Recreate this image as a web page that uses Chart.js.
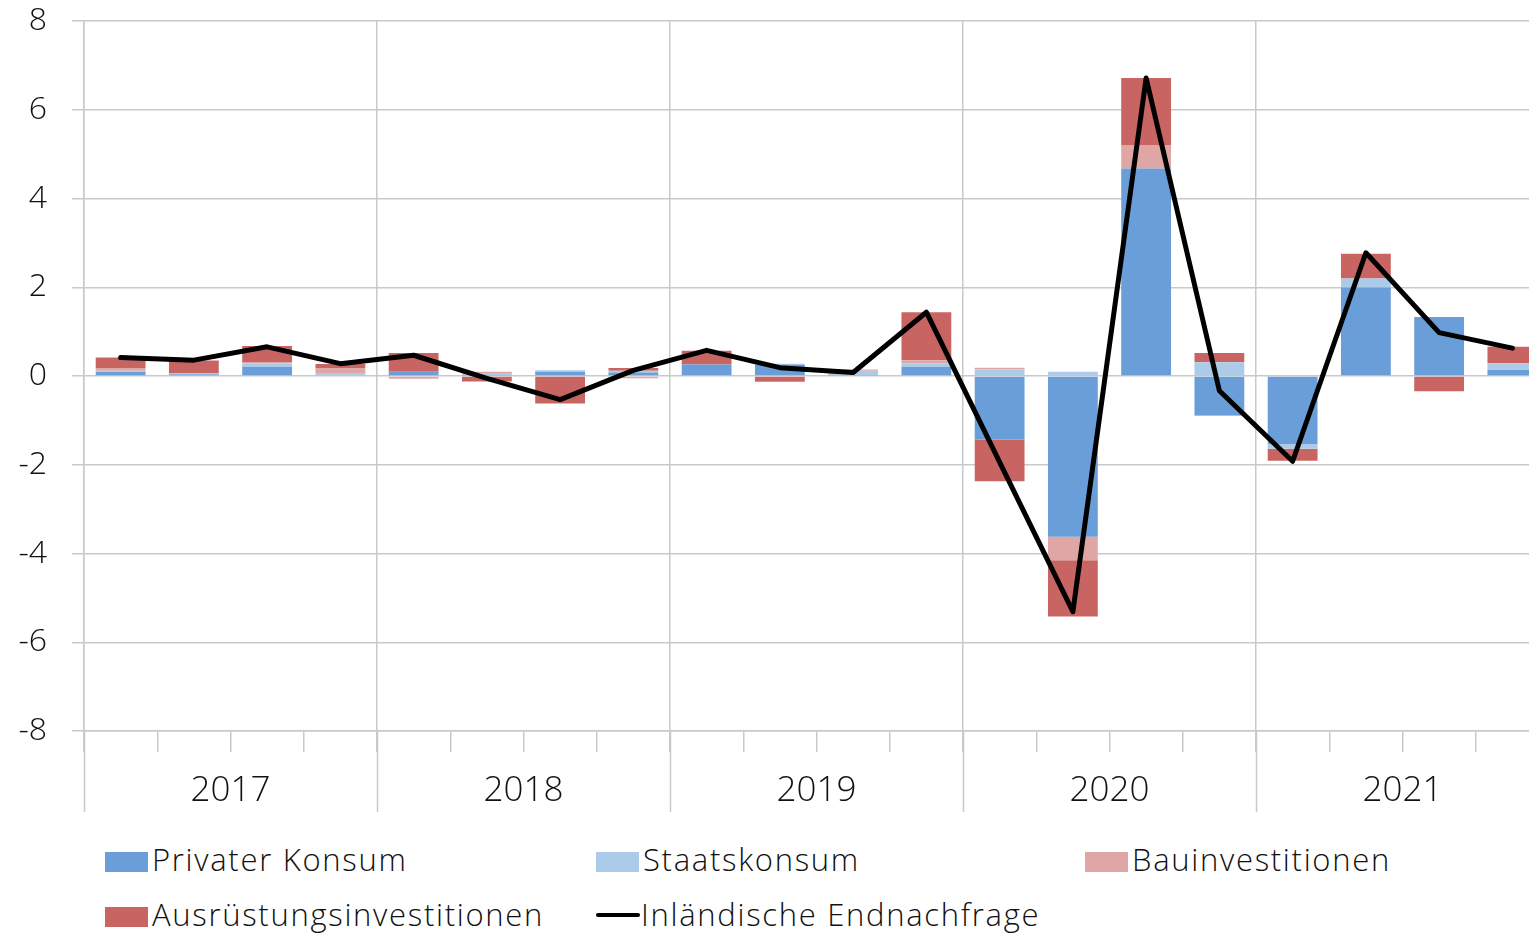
<!DOCTYPE html>
<html>
<head>
<meta charset="utf-8">
<script src="https://cdn.jsdelivr.net/npm/chart.js@4/dist/chart.umd.min.js"></script>
<style>
  body { margin: 0; overflow: hidden; background: #fff; font-family: "Open Sans", sans-serif; }
  #wrap { position: absolute; left: 0; top: -23px; width: 1549px; height: 843px; }
  .leg { position: absolute; font-size: 31px; font-weight: 300; letter-spacing: 1.7px; color: #111; white-space: nowrap; line-height: 34px; }
  .leg span.box { display: inline-block; width: 43px; height: 20px; margin-right: 4px; vertical-align: -1px; }
  .leg span.ln { display: inline-block; width: 44px; height: 4px; border-radius: 2px; background: #000; margin-right: 1px; vertical-align: 9px; }
</style>
</head>
<body>
<div id="wrap"><canvas id="chart" width="1549" height="843"></canvas></div>
<div id="legend"></div>
<script>
const quarters = [
  'Q1 2017', 'Q2 2017', 'Q3 2017', 'Q4 2017',
  'Q1 2018', 'Q2 2018', 'Q3 2018', 'Q4 2018',
  'Q1 2019', 'Q2 2019', 'Q3 2019', 'Q4 2019',
  'Q1 2020', 'Q2 2020', 'Q3 2020', 'Q4 2020',
  'Q1 2021', 'Q2 2021', 'Q3 2021', 'Q4 2021'
];
const years = ['2017', '2018', '2019', '2020', '2021'];

const privaterKonsum = [0.10, 0.04, 0.21, 0.00, 0.10, 0.03, 0.10, 0.08, 0.26, 0.26, 0.03, 0.21, -1.43, -3.62, 4.68, -0.88, -1.53, 2.00, 1.33, 0.14];
const staatskonsum = [0.02, 0.03, 0.08, 0.07, 0.00, 0.04, 0.03, 0.04, 0.00, 0.02, 0.09, 0.08, 0.15, 0.10, 0.00, 0.31, -0.11, 0.20, 0.00, 0.15];
const bauinvestitionen = [0.06, 0.00, 0.03, 0.10, -0.06, 0.03, 0.00, -0.05, 0.00, 0.00, 0.03, 0.07, 0.04, -0.53, 0.53, -0.02, 0.00, 0.00, 0.00, 0.00];
const ausruestung = [0.24, 0.28, 0.36, 0.10, 0.42, -0.12, -0.62, 0.06, 0.31, -0.13, 0.00, 1.08, -0.94, -1.27, 1.51, 0.21, -0.27, 0.56, -0.34, 0.37];
const endnachfrage = [0.42, 0.36, 0.66, 0.28, 0.47, -0.05, -0.53, 0.13, 0.58, 0.19, 0.08, 1.44, -1.94, -5.31, 6.72, -0.33, -1.92, 2.78, 0.98, 0.63];

const yTicks = [-8, -6, -4, -2, 0, 2, 4, 6, 8];

const series = [
  { label: 'Privater Konsum', data: privaterKonsum, color: '#6a9ed9' },
  { label: 'Staatskonsum', data: staatskonsum, color: '#abcbe8' },
  { label: 'Bauinvestitionen', data: bauinvestitionen, color: '#e0a6a6' },
  { label: 'Ausrüstungsinvestitionen', data: ausruestung, color: '#c86562' }
];
const lineLabel = 'Inländische Endnachfrage';

const gridColor = '#c9c9c9';
const axisHeight = 81;
const fontFamily = '"Open Sans", sans-serif';

// long separators between the years under the axis
const yearLines = {
  id: 'yearLines',
  afterDraw(chart) {
    const { ctx, chartArea } = chart;
    const w = (chartArea.right - chartArea.left) / quarters.length;
    ctx.save();
    ctx.strokeStyle = gridColor;
    ctx.lineWidth = 1.5;
    for (let i = 0; i <= quarters.length; i += 4) {
      const x = Math.round(chartArea.left + i * w) + 0.5;
      ctx.beginPath();
      ctx.moveTo(x, chartArea.bottom);
      ctx.lineTo(x, chartArea.bottom + axisHeight);
      ctx.stroke();
    }
    ctx.restore();
  }
};

const datasets = series.map(s => ({
  type: 'bar',
  label: s.label,
  data: s.data,
  backgroundColor: s.color,
  borderWidth: 0,
  stack: 'a',
  order: 1
}));
datasets.push({
  type: 'line',
  label: lineLabel,
  data: endnachfrage,
  borderColor: '#000',
  borderWidth: 5,
  borderJoinStyle: 'round',
  borderCapStyle: 'round',
  pointRadius: 0,
  tension: 0,
  order: 0
});

const ctx = document.getElementById('chart').getContext('2d');
new Chart(ctx, {
  data: { labels: quarters, datasets: datasets },
  options: {
    responsive: false,
    animation: false,
    layout: { padding: { top: 2, right: 0, bottom: 8, left: 0 } },
    datasets: { bar: { categoryPercentage: 1, barPercentage: 0.68 } },
    plugins: { legend: { display: false }, tooltip: { enabled: false } },
    scales: {
      x: {
        stacked: true,
        offset: true,
        afterFit(scale) { scale.height = axisHeight; },
        grid: {
          offset: true,
          color: c => (c.index % 4 === 0 ? gridColor : 'rgba(0,0,0,0)'),
          tickColor: gridColor,
          tickLength: 21,
          lineWidth: 1.5
        },
        border: { color: gridColor, width: 1.5 },
        ticks: {
          autoSkip: false,
          maxRotation: 0,
          padding: 18,
          labelOffset: 36.6,
          color: '#111',
          font: { family: fontFamily, size: 35, weight: 300 },
          callback: (v, i) => (i % 4 === 1 ? years[Math.floor(i / 4)] : '')
        }
      },
      y: {
        stacked: true,
        min: -8,
        max: 8,
        afterFit(scale) { scale.width = 84; },
        afterBuildTicks(scale) { scale.ticks = yTicks.map(v => ({ value: v })); },
        grid: { color: gridColor, lineWidth: 1.5, tickLength: 12 },
        border: { color: gridColor, width: 1.5 },
        ticks: {
          padding: 25,
          color: '#111',
          font: { family: fontFamily, size: 32, weight: 300 }
        }
      }
    }
  },
  plugins: [yearLines]
});

// legend in three columns like the original
const legendPos = [
  { left: 105, top: 842 }, { left: 596, top: 842 }, { left: 1085, top: 842 },
  { left: 105, top: 897 }, { left: 596, top: 897 }
];
const legend = document.getElementById('legend');
series.concat([{ label: lineLabel, line: true }]).forEach((s, i) => {
  const d = document.createElement('div');
  d.className = 'leg';
  d.style.left = legendPos[i].left + 'px';
  d.style.top = legendPos[i].top + 'px';
  const mark = document.createElement('span');
  if (s.line) {
    mark.className = 'ln';
  } else {
    mark.className = 'box';
    mark.style.background = s.color;
  }
  d.appendChild(mark);
  d.appendChild(document.createTextNode(s.label));
  legend.appendChild(d);
});
</script>
</body>
</html>
